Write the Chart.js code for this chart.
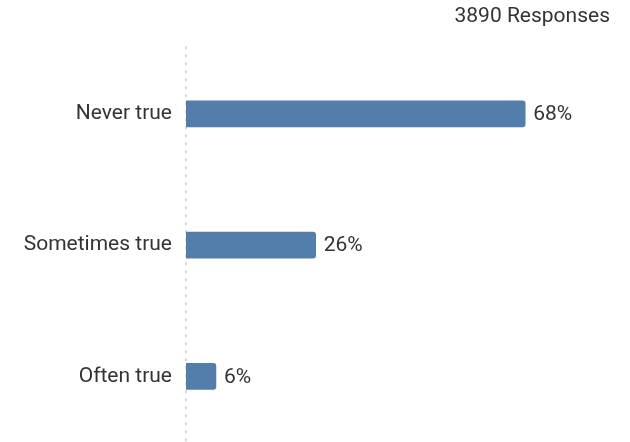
<!DOCTYPE html>
<html>
<head>
<meta charset="utf-8">
<script src="https://cdn.jsdelivr.net/npm/chart.js@4.4.1/dist/chart.umd.min.js"></script>
<style>
  html, body { margin: 0; padding: 0; background: #ffffff; overflow: hidden; }
  canvas { display: block; }
</style>
</head>
<body>
<canvas id="chart" width="630" height="442"></canvas>
<script>
const categories = ['Never true', 'Sometimes true', 'Often true'];
const percentages = [68, 26, 6];
const responseCount = 3890;

const textColor = '#333333';
const barColor = '#537dab';
const fontFamily = 'Roboto, "Liberation Sans", sans-serif';
const fontSize = 21;

// Dotted baseline at zero, running the full height of the plot area
const dottedAxis = {
  id: 'dottedAxis',
  beforeDatasetsDraw(chart) {
    const { ctx, chartArea } = chart;
    const x = Math.round(chart.scales.x.getPixelForValue(0));
    ctx.save();
    ctx.strokeStyle = '#d9d9d9';
    ctx.lineWidth = 2;
    ctx.setLineDash([3, 5]);
    ctx.beginPath();
    ctx.moveTo(x, chartArea.top - 2);
    ctx.lineTo(x, chartArea.bottom);
    ctx.stroke();
    ctx.restore();
  }
};

// Writes "NN%" just past the end of each bar
const valueLabels = {
  id: 'valueLabels',
  afterDatasetsDraw(chart) {
    const { ctx } = chart;
    const meta = chart.getDatasetMeta(0);
    ctx.save();
    ctx.font = fontSize + 'px ' + fontFamily;
    ctx.fillStyle = textColor;
    ctx.textAlign = 'left';
    ctx.textBaseline = 'middle';
    meta.data.forEach((bar, i) => {
      ctx.fillText(percentages[i] + '%', bar.x + 8, bar.y + 1);
    });
    ctx.restore();
  }
};

new Chart(document.getElementById('chart'), {
  type: 'bar',
  data: {
    labels: categories,
    datasets: [{
      data: percentages,
      backgroundColor: barColor,
      borderRadius: 3,
      borderSkipped: 'start',
      barThickness: 26
    }]
  },
  options: {
    indexAxis: 'y',
    responsive: false,
    animation: false,
    layout: { padding: { left: 0, right: 20, top: 0, bottom: 0 } },
    plugins: {
      legend: { display: false },
      tooltip: { enabled: false },
      title: {
        display: true,
        text: responseCount + ' Responses',
        align: 'end',
        color: textColor,
        font: { family: fontFamily, size: fontSize, weight: 'normal' },
        padding: { top: 4, bottom: 19 }
      }
    },
    scales: {
      x: {
        display: false,
        min: 0,
        max: 85
      },
      y: {
        afterFit(scale) {
          scale.width = 186;
          scale.paddingTop = 0;
          scale.paddingBottom = 0;
        },
        grid: { display: false, drawTicks: false },
        border: { display: false },
        ticks: {
          color: textColor,
          padding: 14,
          font: { family: fontFamily, size: fontSize }
        }
      }
    }
  },
  plugins: [dottedAxis, valueLabels]
});
</script>
</body>
</html>
